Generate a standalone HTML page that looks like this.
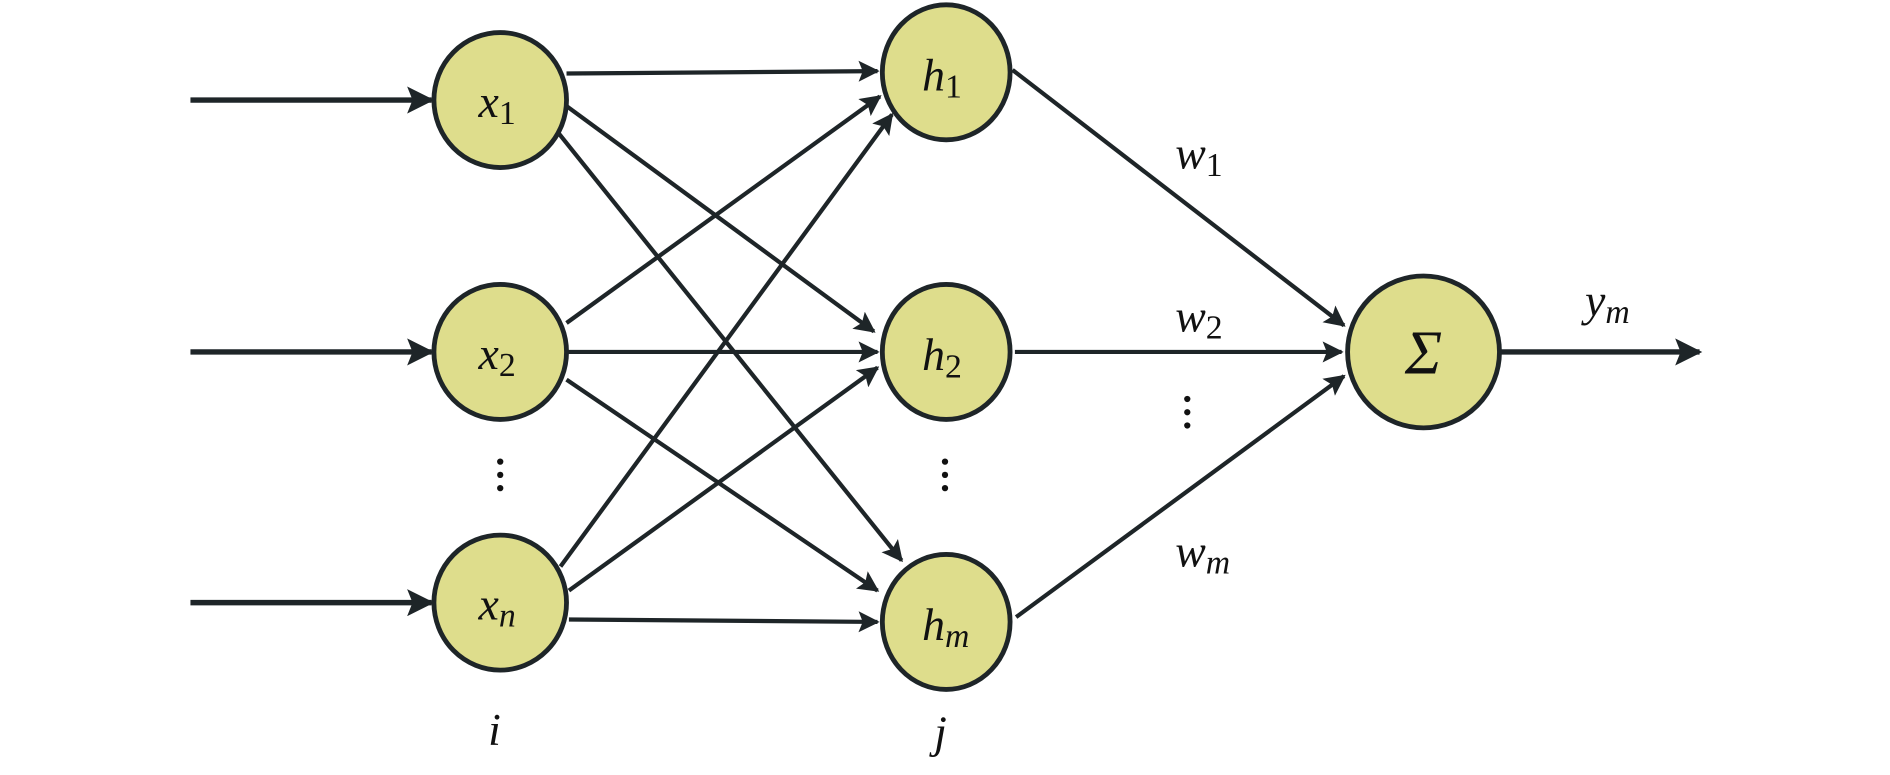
<!DOCTYPE html>
<html><head><meta charset="utf-8"><style>
html,body{margin:0;padding:0;background:#fff;}
svg{display:block;}
text{font-family:"Liberation Serif",serif;font-style:italic;fill:#111;}
</style></head><body>
<svg width="1890" height="775" viewBox="0 0 1568 643" preserveAspectRatio="none" xmlns="http://www.w3.org/2000/svg">
<defs>
<marker id="a" viewBox="0 0 10 10" refX="9" refY="5" markerWidth="5" markerHeight="5" orient="auto" markerUnits="strokeWidth">
<path d="M0,0 L10,5 L0,10 L2,5 z" fill="#1e2528"/></marker>
</defs>
<g stroke="#1e2528" stroke-width="4.5" fill="none" marker-end="url(#a)">
<line x1="158" y1="83" x2="358" y2="83"/>
<line x1="158" y1="292" x2="358" y2="292"/>
<line x1="158" y1="500" x2="358" y2="500"/>
<line x1="1245" y1="292" x2="1410" y2="292"/>
</g>
<g stroke="#1e2528" stroke-width="3.5" fill="none" marker-end="url(#a)">
<line x1="470" y1="61" x2="728" y2="59"/>
<line x1="470" y1="88" x2="725" y2="275"/>
<line x1="463" y1="110" x2="748" y2="465"/>
<line x1="470" y1="268" x2="730" y2="80"/>
<line x1="470" y1="292" x2="728" y2="292"/>
<line x1="470" y1="315" x2="728" y2="490"/>
<line x1="465" y1="470" x2="740" y2="95"/>
<line x1="472" y1="490" x2="728" y2="305"/>
<line x1="472" y1="514" x2="728" y2="516"/>
<line x1="840" y1="58" x2="1115" y2="270"/>
<line x1="842" y1="292" x2="1113" y2="292"/>
<line x1="843" y1="512" x2="1115" y2="312"/>
</g>
<g fill="#dedd8c" stroke="#1e2528" stroke-width="4">
<ellipse cx="415" cy="83" rx="55" ry="56"/>
<ellipse cx="415" cy="292" rx="55" ry="56"/>
<ellipse cx="415" cy="500" rx="55" ry="56"/>
<ellipse cx="785" cy="60" rx="53" ry="56"/>
<ellipse cx="785" cy="292" rx="53" ry="56"/>
<ellipse cx="785" cy="516" rx="53" ry="56"/>
<ellipse cx="1181" cy="292" rx="63" ry="63"/>
</g>
<g font-size="38">
<text x="397" y="97">x<tspan font-size="28" font-style="normal" dy="6">1</tspan></text>
<text x="397" y="306">x<tspan font-size="28" font-style="normal" dy="6">2</tspan></text>
<text x="397" y="514">x<tspan font-size="28" font-style="italic" dy="6">n</tspan></text>
<text x="765" y="75">h<tspan font-size="28" font-style="normal" dy="6">1</tspan></text>
<text x="765" y="307">h<tspan font-size="28" font-style="normal" dy="6">2</tspan></text>
<text x="765" y="531">h<tspan font-size="28" dy="6">m</tspan></text>
<text x="975" y="140">w<tspan font-size="28" font-style="normal" dy="6">1</tspan></text>
<text x="975" y="275">w<tspan font-size="28" font-style="normal" dy="6">2</tspan></text>
<text x="975" y="470">w<tspan font-size="28" dy="6">m</tspan></text>
<text x="1315" y="262">y<tspan font-size="28" dy="6">m</tspan></text>
<text x="405" y="618">i</text>
<text x="775" y="620">j</text>
</g>
<text x="1181" y="310" font-size="52" font-style="normal" text-anchor="middle">Σ</text>
<g fill="#111">
<circle cx="415" cy="383" r="2.6"/><circle cx="415" cy="394" r="2.6"/><circle cx="415" cy="405" r="2.6"/>
<circle cx="784" cy="383" r="2.6"/><circle cx="784" cy="394" r="2.6"/><circle cx="784" cy="405" r="2.6"/>
<circle cx="985" cy="331" r="2.6"/><circle cx="985" cy="342" r="2.6"/><circle cx="985" cy="353" r="2.6"/>
</g>
</svg>
</body></html>
